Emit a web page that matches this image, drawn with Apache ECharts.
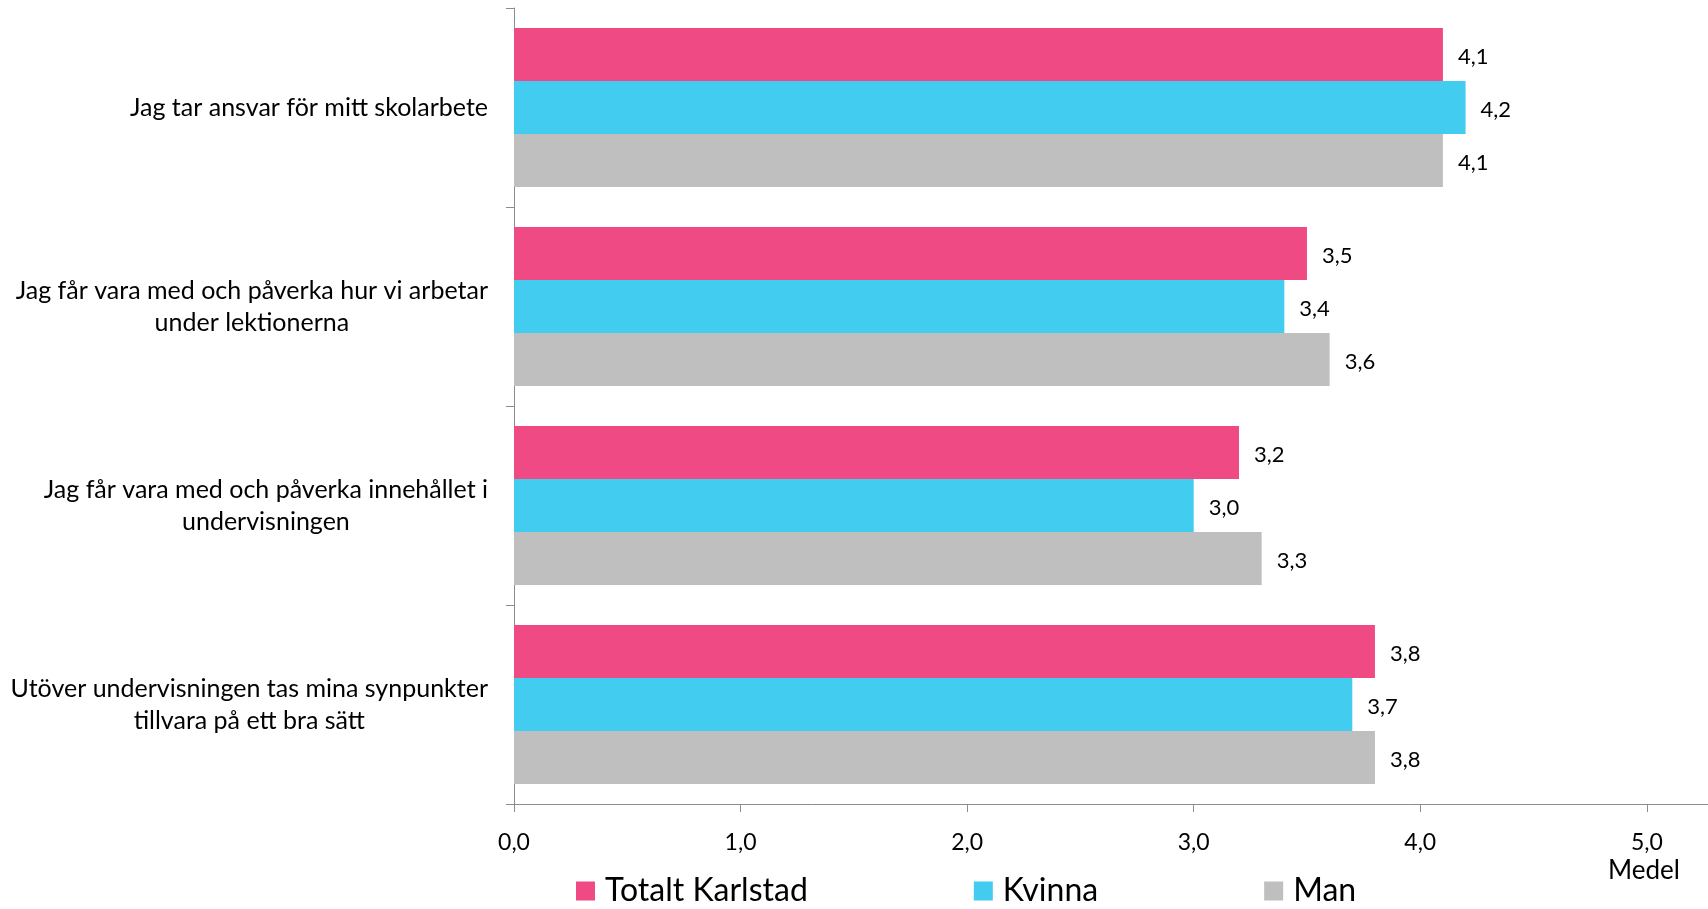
<!DOCTYPE html>
<html>
<head>
<meta charset="utf-8">
<script src="https://cdn.jsdelivr.net/npm/echarts@6/dist/echarts.min.js"></script>
<style>html,body{margin:0;padding:0;background:#fff;}#c{width:1708px;height:909px;}</style>
</head>
<body>
<div id="c"></div>
<script>
const categories = [
  'Jag tar ansvar för mitt skolarbete',
  'Jag får vara med och påverka hur vi arbetar\nunder lektionerna',
  'Jag får vara med och påverka innehållet i\nundervisningen',
  'Utöver undervisningen tas mina synpunkter\ntillvara på ett bra sätt'
];
const seriesNames = ['Totalt Karlstad', 'Kvinna', 'Man'];
const totaltKarlstad = [4.1, 3.5, 3.2, 3.8];
const kvinna = [4.2, 3.4, 3.0, 3.7];
const man = [4.1, 3.6, 3.3, 3.8];
const axisName = 'Medel';

const FONT = 'Lato';
const colors = ['#EF4A83', '#42CCF0', '#BFBFBF'];
const fmt = v => v.toFixed(1).replace('.', ',');

const chart = echarts.init(document.getElementById('c'), null, {renderer: 'canvas'});
const mk = (name, data, color) => ({
  name: name,
  type: 'bar',
  data: data,
  barGap: '0%',
  barCategoryGap: '20%',
  itemStyle: {color: color},
  label: {
    show: true,
    position: 'right',
    distance: 15,
    offset: [0, 2],
    formatter: p => fmt(p.value),
    color: '#000',
    fontFamily: FONT,
    fontSize: 22
  },
  emphasis: {disabled: true}
});

chart.setOption({
  animation: false,
  title: {
    text: axisName,
    left: 1608,
    top: 858,
    padding: 0,
    textStyle: {fontFamily: FONT, fontSize: 26, fontWeight: 'normal', color: '#000'}
  },
  legend: {
    left: 576,
    top: 875,
    icon: 'rect',
    itemWidth: 19,
    itemHeight: 19,
    itemGap: 166,
    padding: 0,
    textStyle: {fontFamily: FONT, fontSize: 32, color: '#000', padding: [0, 0, 0, 5]},
    data: seriesNames
  },
  grid: {left: 514, right: 0, top: 8, bottom: 105, containLabel: false},
  xAxis: {
    type: 'value',
    min: 0,
    max: 5.27,
    interval: 1,
    splitLine: {show: false},
    axisLine: {show: true, lineStyle: {color: '#8C8C8C', width: 1}},
    axisTick: {show: true, length: 8, lineStyle: {color: '#8C8C8C'}},
    axisLabel: {
      showMaxLabel: false,
      margin: 27,
      formatter: v => fmt(v),
      fontFamily: FONT,
      fontSize: 23,
      color: '#000'
    }
  },
  yAxis: {
    type: 'category',
    data: categories,
    inverse: true,
    axisLine: {show: true, lineStyle: {color: '#8C8C8C', width: 1}},
    axisTick: {show: true, length: 8, lineStyle: {color: '#8C8C8C'}},
    axisLabel: {
      margin: 26,
      align: 'right',
      formatter: v => v.split('\n').map(l => '{c|' + l + '}').join('\n'),
      rich: {
        c: {align: 'center', fontFamily: FONT, fontSize: 25, lineHeight: 32, color: '#000'}
      }
    }
  },
  series: [
    mk(seriesNames[0], totaltKarlstad, colors[0]),
    mk(seriesNames[1], kvinna, colors[1]),
    mk(seriesNames[2], man, colors[2])
  ]
});
</script>
</body>
</html>
